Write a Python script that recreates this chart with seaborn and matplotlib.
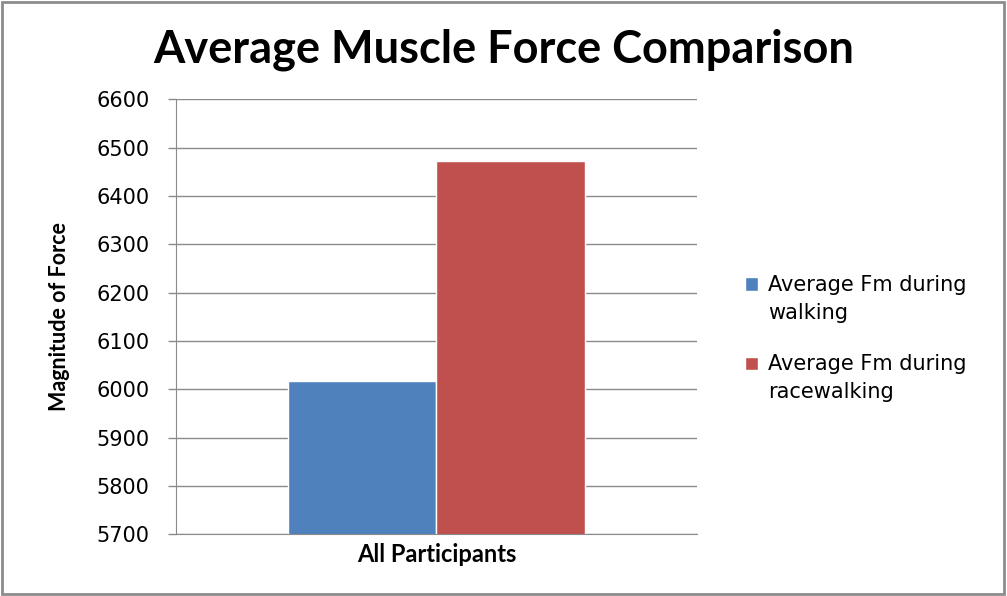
"""Average muscle force: walking vs racewalking, single grouped bar"""

import matplotlib as mpl
import matplotlib.pyplot as plt
import pandas as pd
import seaborn as sns
from matplotlib.legend_handler import HandlerPatch
from matplotlib.patches import Rectangle

groups = ["All Participants", "All Participants"]
series = ["Average Fm during\nwalking", "Average Fm during\nracewalking"]
values = [6017, 6473]
colors = ["#4F81BD", "#C0504D"]
yticks = [5700, 5800, 5900, 6000, 6100, 6200, 6300, 6400, 6500, 6600]

sns.set_style("white")
plt.rcParams["font.family"] = ["DejaVu Sans"]

df = pd.DataFrame({"group": groups, "series": series, "force": values})

fig = plt.figure(figsize=(10.07, 5.96), dpi=100)
ax = fig.add_axes([0.1745, 0.1035, 0.5177, 0.7299])

sns.barplot(
    data=df,
    x="group",
    y="force",
    hue="series",
    palette=colors,
    saturation=1,
    width=0.57,
    gap=0,
    ax=ax,
)

ax.set_ylim(5700, 6600)
ax.set_yticks(yticks)
ax.set_yticklabels([str(t) for t in yticks], fontsize=15, color="black")
ax.grid(axis="y", color="#8a8a8a", linewidth=1)
ax.set_axisbelow(True)

for side in ["top", "right"]:
    ax.spines[side].set_visible(False)
ax.spines["left"].set_color("#8a8a8a")
ax.spines["bottom"].set_color("#8a8a8a")
ax.tick_params(axis="y", left=True, length=5.8, width=1, color="#8a8a8a", pad=13)
ax.tick_params(axis="x", bottom=False, pad=3)
for lbl in ax.get_xticklabels():
    lbl.set_fontfamily("Lato")
    lbl.set_fontweight("bold")
    lbl.set_fontsize(17)
    lbl.set_color("black")

ax.set_xlabel("")
ax.set_ylabel("Magnitude of Force", fontsize=15.5, fontweight="bold", family="Lato",
              color="black", labelpad=19)

fig.suptitle("Average Muscle Force Comparison", x=0.5, y=0.952, fontsize=32.5,
             fontweight="bold", family="Lato", color="black")


# square sits next to the first line of each two-line label
def top_square(legend, orig_handle, xdescent, ydescent, width, height, fontsize):
    return Rectangle((-xdescent, -ydescent + 0.75 * fontsize), width, height)


handles, labels = ax.get_legend_handles_labels()
ax.legend_.remove()
leg = fig.legend(
    handles,
    labels,
    loc="upper left",
    bbox_to_anchor=(0.721, 0.57),
    frameon=False,
    fontsize=15,
    handlelength=0.62,
    handleheight=0.62,
    handletextpad=0.5,
    labelspacing=1.5,
    handler_map={mpl.patches.Rectangle: HandlerPatch(patch_func=top_square)},
)
for t in leg.get_texts():
    t.set_linespacing(1.5)
    t.set_color("black")

fig.patches.append(
    Rectangle((0.002, 0.003), 0.995, 0.993, transform=fig.transFigure,
              fill=False, edgecolor="#8c8c8c", linewidth=2)
)

fig.savefig("out.png", dpi=100)
